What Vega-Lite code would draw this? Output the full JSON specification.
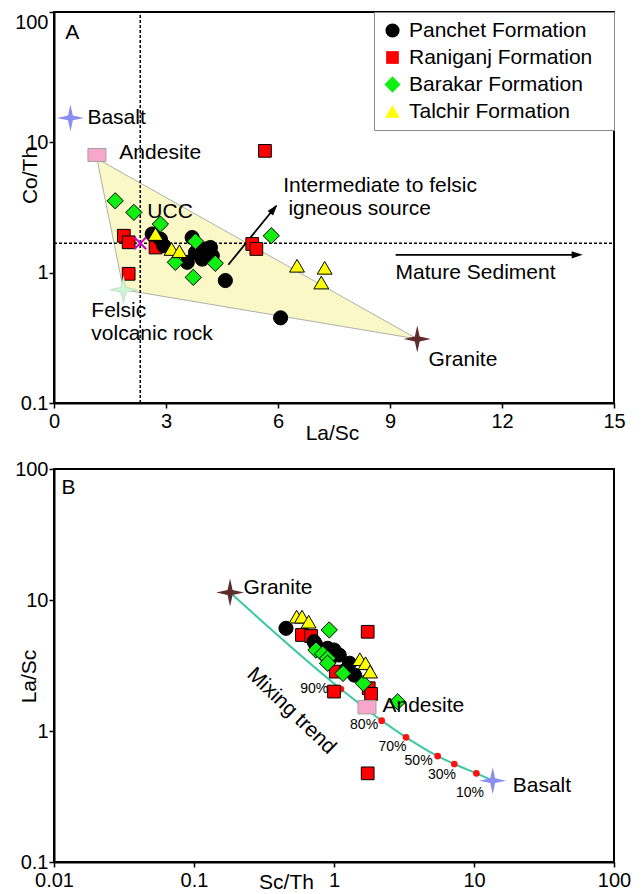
{
  "$schema": "https://vega.github.io/schema/vega-lite/v6.json",
  "background": "white",
  "padding": {"left": 13, "top": 10, "right": 5, "bottom": 5},
  "bounds": "flush",
  "spacing": 66,
  "config": {
    "font": "Liberation Sans",
    "view": {"stroke": "black", "strokeWidth": 2},
    "axis": {"domainColor": "black", "domainWidth": 2, "tickColor": "black", "tickWidth": 1.5, "tickSize": 5, "labelColor": "black", "labelFontSize": 20, "titleColor": "black", "titleFontSize": 21, "titleFontWeight": "normal", "grid": false, "labelFont": "Liberation Sans", "titleFont": "Liberation Sans", "labelFlush": false},
    "text": {"font": "Liberation Sans", "fontSize": 21, "color": "black"}
  },
  "resolve": {"scale": {"x": "independent", "y": "independent", "fill": "independent", "shape": "independent"}},
  "vconcat": [
    {
      "width": 560,
      "height": 391,
      "encoding": {
        "x": {"field": "x", "type": "quantitative", "scale": {"domain": [0, 15], "nice": false, "zero": false},
          "axis": {"values": [0, 3, 6, 9, 12, 15], "format": "d", "title": "La/Sc", "titleX": 278, "titleY": 30, "titleBaseline": "middle", "titleAlign": "center", "labelPadding": 3, "labelFlush": false}},
        "y": {"field": "y", "type": "quantitative", "scale": {"type": "log", "domain": [0.1, 100], "nice": false},
          "axis": {"values": [0.1, 1, 10, 100], "format": "~g", "title": "Co/Th", "titleX": -24, "titleY": 163, "titleBaseline": "middle", "titleAlign": "center", "labelPadding": 1, "labelFlush": false,
            "labelBaseline": {"condition": {"test": "datum.value == 100", "value": "top"}, "value": "middle"}}}
      },
      "layer": [
        {
          "data": {"values": [{"x": 1.15, "y": 7.5, "y2": 7.5}, {"x": 1.86, "y": 5.76, "y2": 0.74}, {"x": 9.73, "y": 0.31, "y2": 0.31}]},
          "mark": {"type": "area", "orient": "vertical", "fill": "#FBF8C8", "stroke": "#9A9A9A", "strokeWidth": 0.8},
          "encoding": {"y2": {"field": "y2"}}
        },
        {
          "data": {"values": [{"x": 2.31, "x2": 2.31, "y": 0.1, "y2": 100}, {"x": 0, "x2": 15, "y": 1.68, "y2": 1.68}]},
          "mark": {"type": "rule", "strokeDash": [3, 2], "strokeWidth": 1.5, "color": "black"},
          "encoding": {"x2": {"field": "x2"}, "y2": {"field": "y2"}}
        },
        {
          "data": {"values": [{"x": 4.67, "y": 1.15, "x2": 5.95, "y2": 3.25}, {"x": 9.15, "y": 1.37, "x2": 14.0, "y2": 1.37}]},
          "mark": {"type": "rule", "strokeWidth": 1.8, "color": "black"},
          "encoding": {"x2": {"field": "x2"}, "y2": {"field": "y2"}}
        },
        {
          "data": {"values": [{"x": 5.98, "y": 3.32}]},
          "mark": {"type": "point", "shape": "M0,0L0.65,2L-0.65,2Z", "size": 121, "filled": true, "fill": "black", "strokeWidth": 0, "opacity": 1, "angle": 39}
        },
        {
          "data": {"values": [{"x": 14.16, "y": 1.37}]},
          "mark": {"type": "point", "shape": "M0,0L0.65,2L-0.65,2Z", "size": 121, "filled": true, "fill": "black", "strokeWidth": 0, "opacity": 1, "angle": 90}
        },
        {
          "data": {"values": [
            {"f": "Raniganj Formation", "x": 1.87, "y": 1.92},
            {"f": "Raniganj Formation", "x": 2.0, "y": 1.71},
            {"f": "Raniganj Formation", "x": 2.72, "y": 1.56},
            {"f": "Raniganj Formation", "x": 2.0, "y": 0.98},
            {"f": "Raniganj Formation", "x": 5.31, "y": 1.66},
            {"f": "Raniganj Formation", "x": 5.42, "y": 1.52},
            {"f": "Raniganj Formation", "x": 5.65, "y": 8.6},
            {"f": "Panchet Formation", "x": 2.63, "y": 1.98},
            {"f": "Panchet Formation", "x": 2.85, "y": 1.81},
            {"f": "Panchet Formation", "x": 2.94, "y": 1.61},
            {"f": "Panchet Formation", "x": 3.7, "y": 1.86},
            {"f": "Panchet Formation", "x": 3.79, "y": 1.43},
            {"f": "Panchet Formation", "x": 4.19, "y": 1.56},
            {"f": "Panchet Formation", "x": 4.24, "y": 1.35},
            {"f": "Panchet Formation", "x": 3.57, "y": 1.2},
            {"f": "Panchet Formation", "x": 3.97, "y": 1.27},
            {"f": "Panchet Formation", "x": 4.06, "y": 1.52},
            {"f": "Panchet Formation", "x": 4.59, "y": 0.87},
            {"f": "Panchet Formation", "x": 6.07, "y": 0.45},
            {"f": "Barakar Formation", "x": 1.64, "y": 3.56},
            {"f": "Barakar Formation", "x": 2.14, "y": 2.9},
            {"f": "Barakar Formation", "x": 2.85, "y": 2.36},
            {"f": "Barakar Formation", "x": 3.79, "y": 1.74},
            {"f": "Barakar Formation", "x": 3.25, "y": 1.2},
            {"f": "Barakar Formation", "x": 3.73, "y": 0.92},
            {"f": "Barakar Formation", "x": 4.32, "y": 1.18},
            {"f": "Barakar Formation", "x": 5.82, "y": 1.92},
            {"f": "Talchir Formation", "x": 2.72, "y": 1.98},
            {"f": "Talchir Formation", "x": 3.15, "y": 1.52},
            {"f": "Talchir Formation", "x": 3.36, "y": 1.46},
            {"f": "Talchir Formation", "x": 6.51, "y": 1.13},
            {"f": "Talchir Formation", "x": 7.25, "y": 1.09},
            {"f": "Talchir Formation", "x": 7.16, "y": 0.84}
          ]},
          "mark": {"type": "point", "filled": true, "size": 200, "stroke": "black", "strokeWidth": 1, "opacity": 1},
          "encoding": {
            "shape": {"field": "f", "type": "nominal",
              "scale": {"domain": ["Panchet Formation", "Raniganj Formation", "Barakar Formation", "Talchir Formation"], "range": ["circle", "M-0.9,-0.9L0.9,-0.9L0.9,0.9L-0.9,0.9Z", "M0,-1.15L1.15,0L0,1.15L-1.15,0Z", "M0,-0.9L1.05,0.9L-1.05,0.9Z"]},
              "legend": {"title": "ii", "titleOrient": "right", "titleFontSize": 10, "titleOpacity": 0, "titlePadding": 8, "orient": "top-right", "offset": 0, "padding": 8, "strokeColor": "#8A8A8A", "fillColor": "white", "labelFontSize": 21, "labelColor": "black", "symbolSize": 200, "symbolStrokeColor": "black", "symbolStrokeWidth": 1, "symbolOpacity": 1, "rowPadding": 5, "labelOffset": 6, "labelLimit": 300}},
            "fill": {"field": "f", "type": "nominal",
              "scale": {"domain": ["Panchet Formation", "Raniganj Formation", "Barakar Formation", "Talchir Formation"], "range": ["#000000", "#FF0000", "#11EE11", "#FFFF00"]},
              "legend": {"title": "ii", "titleOrient": "right", "titleFontSize": 10, "titleOpacity": 0, "titlePadding": 8, "orient": "top-right", "offset": 0, "padding": 8, "strokeColor": "#8A8A8A", "fillColor": "white", "labelFontSize": 21, "labelColor": "black", "symbolSize": 200, "symbolStrokeColor": "black", "symbolStrokeWidth": 1, "symbolOpacity": 1, "rowPadding": 5, "labelOffset": 6, "labelLimit": 300}}
          }
        },
        {
          "data": {"values": [{"name": "Basalt", "x": 0.44, "y": 15.4}]},
          "mark": {"type": "point", "shape": "M0,-1L0.18,-0.18L1,0L0.18,0.18L0,1L-0.18,0.18L-1,0L-0.18,-0.18Z", "size": 729, "filled": true, "fill": "#8C8CF2", "strokeWidth": 0, "opacity": 1}
        },
        {
          "data": {"values": [{"name": "Felsic volcanic rock", "x": 1.86, "y": 0.74}]},
          "mark": {"type": "point", "shape": "M0,-1L0.18,-0.18L1,0L0.18,0.18L0,1L-0.18,0.18L-1,0L-0.18,-0.18Z", "size": 729, "filled": true, "fill": "#CFF5D4", "stroke": "#A6D6B0", "strokeWidth": 0.6, "opacity": 1}
        },
        {
          "data": {"values": [{"name": "Granite", "x": 9.73, "y": 0.31}]},
          "mark": {"type": "point", "shape": "M0,-1L0.18,-0.18L1,0L0.18,0.18L0,1L-0.18,0.18L-1,0L-0.18,-0.18Z", "size": 729, "filled": true, "fill": "#5E2C2C", "strokeWidth": 0, "opacity": 1}
        },
        {
          "data": {"values": [{"name": "Andesite", "x": 1.15, "y": 8.0}]},
          "mark": {"type": "point", "shape": "M-1,-0.72L1,-0.72L1,0.72L-1,0.72Z", "size": 324, "filled": true, "fill": "#F7A6CC", "stroke": "#A0A0A0", "strokeWidth": 1, "opacity": 1}
        },
        {
          "data": {"values": [{"name": "UCC", "x": 2.31, "y": 1.68}]},
          "mark": {"type": "point", "shape": "M-1,-1L1,1M-1,1L1,-1", "size": 144, "filled": false, "stroke": "#D000D0", "strokeWidth": 2, "opacity": 1}
        },
        {
          "data": {"values": [
            {"t": "Basalt", "x": 0.895, "y": 15.4},
            {"t": "Andesite", "x": 1.75, "y": 8.3},
            {"t": "UCC", "x": 2.5, "y": 2.93},
            {"t": "Felsic", "x": 1.0, "y": 0.512},
            {"t": "volcanic rock", "x": 1.0, "y": 0.341},
            {"t": "Granite", "x": 10.03, "y": 0.215},
            {"t": "Intermediate to felsic", "x": 6.14, "y": 4.64},
            {"t": "igneous source", "x": 6.28, "y": 3.09},
            {"t": "Mature Sediment", "x": 9.15, "y": 1.0}
          ]},
          "mark": {"type": "text", "align": "left", "baseline": "middle", "fontSize": 21},
          "encoding": {"text": {"field": "t"}}
        },
        {
          "data": {"values": [{"t": "A", "x": 0.49, "y": 69}]},
          "mark": {"type": "text", "align": "center", "baseline": "middle", "fontSize": 21},
          "encoding": {"text": {"field": "t"}}
        }
      ]
    },
    {
      "width": 560,
      "height": 393,
      "encoding": {
        "x": {"field": "x", "type": "quantitative", "scale": {"type": "log", "domain": [0.01, 100], "nice": false},
          "axis": {"values": [0.01, 0.1, 1, 10, 100], "format": "~g", "title": "Sc/Th", "titleX": 232, "titleY": 20, "titleBaseline": "middle", "titleAlign": "center", "labelPadding": 3, "labelFlush": false}},
        "y": {"field": "y", "type": "quantitative", "scale": {"type": "log", "domain": [0.1, 100], "nice": false},
          "axis": {"values": [0.1, 1, 10, 100], "format": "~g", "title": "La/Sc", "titleX": -25, "titleY": 207, "titleBaseline": "middle", "titleAlign": "center", "labelPadding": 1, "labelFlush": false}}
      },
      "layer": [
        {
          "data": {"values": [
            {"x": 0.181, "y": 11.4},
            {"x": 1.12, "y": 2.09},
            {"x": 2.19, "y": 1.2},
            {"x": 3.27, "y": 0.895},
            {"x": 5.5, "y": 0.644},
            {"x": 7.23, "y": 0.56},
            {"x": 10.4, "y": 0.475},
            {"x": 13.6, "y": 0.418}
          ]},
          "mark": {"type": "line", "interpolate": "monotone", "color": "#3CC9A0", "strokeWidth": 2}
        },
        {
          "data": {"values": [
            {"p": "90%", "x": 1.12, "y": 2.09},
            {"p": "80%", "x": 2.19, "y": 1.2},
            {"p": "70%", "x": 3.27, "y": 0.895},
            {"p": "50%", "x": 5.5, "y": 0.644},
            {"p": "30%", "x": 7.23, "y": 0.56},
            {"p": "10%", "x": 10.4, "y": 0.475}
          ]},
          "mark": {"type": "point", "shape": "circle", "filled": true, "fill": "#FF1010", "size": 45, "strokeWidth": 0, "opacity": 1}
        },
        {
          "data": {"values": [
            {"f": "Raniganj Formation", "x": 0.59, "y": 5.41},
            {"f": "Raniganj Formation", "x": 0.686, "y": 5.31},
            {"f": "Raniganj Formation", "x": 1.74, "y": 5.72},
            {"f": "Raniganj Formation", "x": 1.03, "y": 2.84},
            {"f": "Raniganj Formation", "x": 1.0, "y": 2.0},
            {"f": "Raniganj Formation", "x": 1.77, "y": 2.12},
            {"f": "Raniganj Formation", "x": 1.84, "y": 1.92},
            {"f": "Raniganj Formation", "x": 1.74, "y": 0.475},
            {"f": "Panchet Formation", "x": 0.454, "y": 6.08},
            {"f": "Panchet Formation", "x": 0.72, "y": 4.81},
            {"f": "Panchet Formation", "x": 0.743, "y": 4.53},
            {"f": "Panchet Formation", "x": 0.9, "y": 4.28},
            {"f": "Panchet Formation", "x": 1.0, "y": 4.15},
            {"f": "Panchet Formation", "x": 1.09, "y": 3.8},
            {"f": "Panchet Formation", "x": 0.925, "y": 3.48},
            {"f": "Panchet Formation", "x": 1.29, "y": 3.29},
            {"f": "Panchet Formation", "x": 1.22, "y": 2.93},
            {"f": "Panchet Formation", "x": 1.4, "y": 2.67},
            {"f": "Barakar Formation", "x": 0.925, "y": 5.91},
            {"f": "Barakar Formation", "x": 0.743, "y": 4.15},
            {"f": "Barakar Formation", "x": 0.83, "y": 3.87},
            {"f": "Barakar Formation", "x": 0.9, "y": 3.59},
            {"f": "Barakar Formation", "x": 0.9, "y": 3.29},
            {"f": "Barakar Formation", "x": 1.16, "y": 2.75},
            {"f": "Barakar Formation", "x": 1.62, "y": 2.31},
            {"f": "Barakar Formation", "x": 2.85, "y": 1.67},
            {"f": "Talchir Formation", "x": 0.541, "y": 7.46},
            {"f": "Talchir Formation", "x": 0.591, "y": 7.46},
            {"f": "Talchir Formation", "x": 0.659, "y": 6.83},
            {"f": "Talchir Formation", "x": 1.53, "y": 3.53},
            {"f": "Talchir Formation", "x": 1.68, "y": 3.29},
            {"f": "Talchir Formation", "x": 1.81, "y": 2.84}
          ]},
          "mark": {"type": "point", "filled": true, "size": 200, "stroke": "black", "strokeWidth": 1, "opacity": 1},
          "encoding": {
            "shape": {"field": "f", "type": "nominal",
              "scale": {"domain": ["Panchet Formation", "Raniganj Formation", "Barakar Formation", "Talchir Formation"], "range": ["circle", "M-0.9,-0.9L0.9,-0.9L0.9,0.9L-0.9,0.9Z", "M0,-1.15L1.15,0L0,1.15L-1.15,0Z", "M0,-0.9L1.05,0.9L-1.05,0.9Z"]},
              "legend": null},
            "fill": {"field": "f", "type": "nominal",
              "scale": {"domain": ["Panchet Formation", "Raniganj Formation", "Barakar Formation", "Talchir Formation"], "range": ["#000000", "#FF0000", "#11EE11", "#FFFF00"]},
              "legend": null}
          }
        },
        {
          "data": {"values": [{"name": "Granite", "x": 0.181, "y": 11.4}]},
          "mark": {"type": "point", "shape": "M0,-1L0.18,-0.18L1,0L0.18,0.18L0,1L-0.18,0.18L-1,0L-0.18,-0.18Z", "size": 784, "filled": true, "fill": "#5E2C2C", "strokeWidth": 0, "opacity": 1}
        },
        {
          "data": {"values": [{"name": "Basalt", "x": 13.6, "y": 0.418}]},
          "mark": {"type": "point", "shape": "M0,-1L0.18,-0.18L1,0L0.18,0.18L0,1L-0.18,0.18L-1,0L-0.18,-0.18Z", "size": 729, "filled": true, "fill": "#8C8CF2", "strokeWidth": 0, "opacity": 1}
        },
        {
          "data": {"values": [{"name": "Andesite", "x": 1.72, "y": 1.52}]},
          "mark": {"type": "point", "shape": "M-1,-0.75L1,-0.75L1,0.75L-1,0.75Z", "size": 324, "filled": true, "fill": "#F7A6CC", "stroke": "#A0A0A0", "strokeWidth": 1, "opacity": 1}
        },
        {
          "data": {"values": [
            {"t": "Granite", "x": 0.226, "y": 12.3},
            {"t": "Andesite", "x": 2.22, "y": 1.55},
            {"t": "Basalt", "x": 18.9, "y": 0.38}
          ]},
          "mark": {"type": "text", "align": "left", "baseline": "middle", "fontSize": 21},
          "encoding": {"text": {"field": "t"}}
        },
        {
          "data": {"values": [
            {"t": "90%", "x": 0.723, "y": 2.09},
            {"t": "80%", "x": 1.64, "y": 1.12},
            {"t": "70%", "x": 2.62, "y": 0.759},
            {"t": "50%", "x": 4.02, "y": 0.593},
            {"t": "30%", "x": 5.91, "y": 0.461},
            {"t": "10%", "x": 9.36, "y": 0.334}
          ]},
          "mark": {"type": "text", "align": "center", "baseline": "middle", "fontSize": 14},
          "encoding": {"text": {"field": "t"}}
        },
        {
          "data": {"values": [{"t": "Mixing trend", "x": 0.495, "y": 1.42}]},
          "mark": {"type": "text", "align": "center", "baseline": "middle", "fontSize": 21, "angle": 44},
          "encoding": {"text": {"field": "t"}}
        },
        {
          "data": {"values": [{"t": "B", "x": 0.0127, "y": 71.3}]},
          "mark": {"type": "text", "align": "center", "baseline": "middle", "fontSize": 21},
          "encoding": {"text": {"field": "t"}}
        }
      ]
    }
  ]
}
